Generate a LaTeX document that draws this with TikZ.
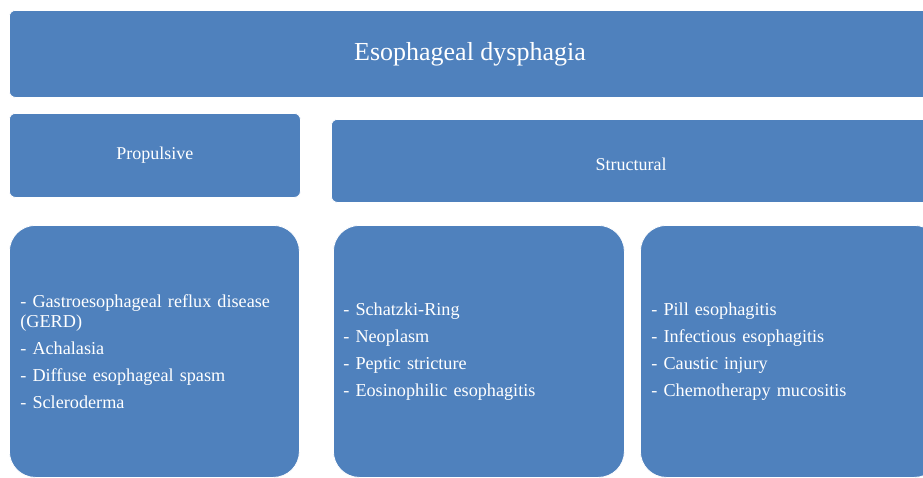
\documentclass[tikz,border=0pt]{standalone}
\usepackage{fontspec}
\setmainfont{Liberation Serif}
\definecolor{boxblue}{HTML}{4F81BD}
\begin{document}
\begin{tikzpicture}[x=1pt,y=-1pt,
  box/.style={fill=boxblue, draw=white, line width=0.8pt, text=white,
    anchor=north west, inner sep=0pt},
  headbox/.style={box, rounded corners=6pt},
  listbox/.style={box, rounded corners=26pt, align=left,
    font=\fontsize{18.2}{20}\selectfont}
]
\useasboundingbox (0,0) rectangle (923,477);
\clip (0,0) rectangle (923,477);

% title bar
\node[headbox, minimum width=930pt, minimum height=87pt] (title) at (9,10) {};
\node[text=white, font=\fontsize{26}{30}\selectfont] (titletext) at (470,54) {Esophageal dysphagia};

% category headers
\node[headbox, minimum width=291pt, minimum height=84pt,
      font=\fontsize{18}{20}\selectfont] (prop) at (9,113) {Propulsive};
\node[headbox, minimum width=600pt, minimum height=83pt] (struct) at (331,119) {};
\node[text=white, font=\fontsize{18}{20}\selectfont] (structtext) at (631,164) {Structural};

% cause lists
\node[listbox, minimum width=290pt, minimum height=252pt,
      text width=268pt] (propl) at (9,225) {
  - Gastroesophageal reflux disease\\
  (GERD)\\[7pt]
  - Achalasia\\[7pt]
  - Diffuse esophageal spasm\\[7pt]
  - Scleroderma};
\node[listbox, minimum width=291pt, minimum height=252pt,
      text width=271pt] (structl) at (333,225) {
  - Schatzki-Ring\\[7pt]
  - Neoplasm\\[7pt]
  - Peptic stricture\\[7pt]
  - Eosinophilic esophagitis};
\node[listbox, minimum width=300pt, minimum height=252pt,
      text width=278pt] (inflam) at (640,225) {
  - Pill esophagitis\\[7pt]
  - Infectious esophagitis\\[7pt]
  - Caustic injury\\[7pt]
  - Chemotherapy mucositis};
\end{tikzpicture}
\end{document}
